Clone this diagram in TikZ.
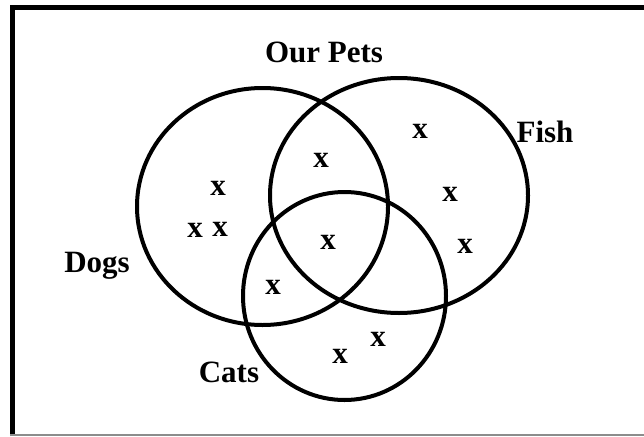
\documentclass[tikz,border=0pt]{standalone}
\usepackage{fontspec}
\setmainfont{Liberation Serif}
\begin{document}
\begin{tikzpicture}[x=1pt,y=-1pt,
  lbl/.style={font=\fontsize{31}{36}\selectfont\bfseries, inner sep=0pt, anchor=base},
  mk/.style={font=\fontsize{31}{36}\selectfont\bfseries, inner sep=0pt},
  setc/.style={draw=black, line width=4pt}]
\useasboundingbox (0,0) rectangle (644,436);
\fill[white] (0,0) rectangle (644,436);
% frame
\draw[line width=5pt, black] (12.5,436) -- (12.5,7.2) -- (644,7.2);
\draw[line width=1.2pt, black!45] (10,435) -- (644,435);
% sets
\draw[setc] (262.5,206.5) ellipse [x radius=125.5, y radius=118.5];
\draw[setc] (399,195.5) ellipse [x radius=129, y radius=117.5];
\draw[setc] (344.5,296) ellipse [x radius=101.5, y radius=104];
% labels
\node[lbl] (pets) at (324,63) {Our Pets};
\node[lbl] (fish) at (545,142) {Fish};
\node[lbl] (dogs) at (97,272) {Dogs};
\node[lbl] (cats) at (229,382) {Cats};
% marks
\node[mk] (m1) at (218,188) {x};
\node[mk] (m2) at (195,230) {x};
\node[mk] (m3) at (220,229) {x};
\node[mk] (m4) at (321,160) {x};
\node[mk] (m5) at (328,242) {x};
\node[mk] (m6) at (273,287) {x};
\node[mk] (m7) at (420,131) {x};
\node[mk] (m8) at (450,194) {x};
\node[mk] (m9) at (465,246) {x};
\node[mk] (m10) at (340,356) {x};
\node[mk] (m11) at (378,339) {x};
\end{tikzpicture}
\end{document}
